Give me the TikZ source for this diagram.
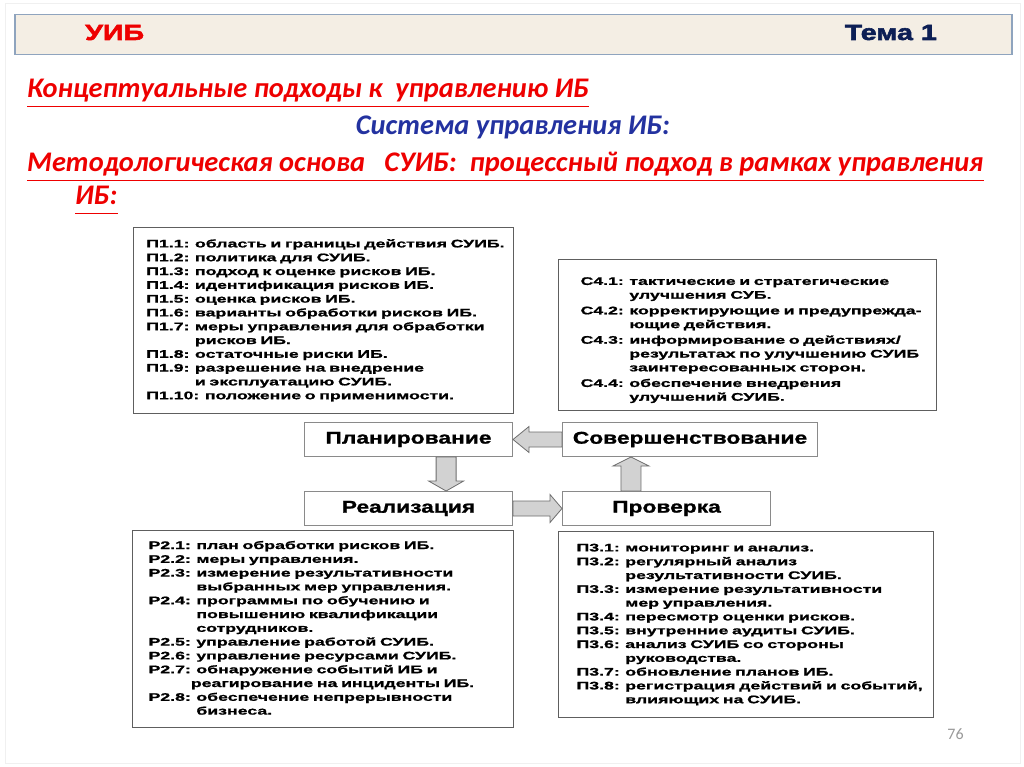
\documentclass[tikz,border=0pt]{standalone}
\usepackage{fontspec}
\setmainfont{Carlito}
\newfontfamily\listfont[FakeStretch=1.61,BoldFeatures={FakeBold=1.2}]{Liberation Sans}
\newfontfamily\stagefont[FakeStretch=1.34,BoldFeatures={FakeBold=1.2}]{Liberation Sans}
\newfontfamily\headfont[FakeStretch=1.3,BoldFeatures={FakeBold=2.5}]{Liberation Sans}
\usetikzlibrary{positioning,calc}
\definecolor{HeadFill}{HTML}{F4EEE4}
\definecolor{HeadLine}{HTML}{8FA4BE}
\definecolor{TitleRed}{HTML}{EE0000}
\definecolor{NavyText}{HTML}{0D1F55}
\definecolor{SysBlue}{HTML}{2332A0}
\definecolor{BoxLine}{HTML}{5E5E5E}
\definecolor{StageLine}{HTML}{8A8A8A}
\definecolor{ArrowFill}{HTML}{D2D2D2}
\definecolor{ArrowLine}{HTML}{6E6E6E}
\newcommand{\ind}[1]{\phantom{#1}}
% block arrow: tail, tip, shaft half width, head half width, head length
\newcommand{\blockarrow}[5]{%
  \coordinate (ba) at ($(#2)!#5pt!(#1)$);
  \draw[blockarr] ($(#1)!#3pt!90:(#2)$) -- ($(ba)!#3pt!-90:(#1)$) -- ($(ba)!#4pt!-90:(#1)$) -- (#2)
    -- ($(ba)!#4pt!90:(#1)$) -- ($(ba)!#3pt!90:(#1)$) -- ($(#1)!#3pt!-90:(#2)$) -- cycle;}

\begin{document}
\begin{tikzpicture}[x=1pt,y=-1pt,
title/.style={font=\bfseries\itshape\fontsize{28.4}{33}\selectfont,inner sep=0pt},
uline/.style={TitleRed,line width=1.6pt},
listbox/.style={draw=BoxLine,line width=1.1pt,fill=white,anchor=north west,align=left,inner ysep=0pt,
  font=\listfont\bfseries\fontsize{11}{13.8}\selectfont},
stage/.style={draw=StageLine,line width=1pt,fill=white,minimum height=34pt,inner sep=0pt,
  font=\stagefont\bfseries\fontsize{17}{20}\selectfont},
blockarr/.style={draw=ArrowLine,fill=ArrowFill,line width=0.8pt,line join=miter}]
\useasboundingbox (0,0) rectangle (1024,767);
\fill[white] (0,0) rectangle (1024,767);
\draw[gray!12] (5,3) rectangle (1020,763);
% header
\node[draw=HeadLine,line width=1.5pt,fill=HeadFill,anchor=north west,minimum width=997pt,minimum height=40pt,inner sep=0pt] (head) at (14,14) {};
\node[anchor=base west,inner sep=0pt,text=TitleRed,font=\headfont\bfseries\fontsize{22}{24}\selectfont] (uib) at (85,40) {УИБ};
\node[anchor=base east,inner sep=0pt,text=NavyText,font=\headfont\bfseries\fontsize{22}{24}\selectfont] (tema) at (937,40) {Тема 1};
% titles
\node[title,anchor=base west,text=TitleRed] (t1) at (27,98) {Концептуальные подходы к\ \ управлению ИБ};
\node[title,anchor=base,text=SysBlue] (t2) at (513,135) {Система управления ИБ:};
\node[title,anchor=base west,text=TitleRed] (t3) at (27,172) {Методологическая основа\ \ \ СУИБ:\ \ процессный подход в рамках управления};
\node[title,anchor=base west,text=TitleRed] (t4) at (75,205) {ИБ:};
\foreach \t in {t1,t3,t4}
  \draw[uline] ($(\t.base west)+(0,8.5)$) -- ($(\t.base east)+(0,8.5)$);
% stages
\node[stage,minimum width=208pt,anchor=north west] (plan) at (304,422) {Планирование};
\node[stage,minimum width=255pt,right=49pt of plan] (sov) {Совершенствование};
\node[stage,minimum width=208pt,below=34pt of plan] (real) {Реализация};
\node[stage,minimum width=208pt,below=34pt of sov.south west,anchor=north west] (prov) {Проверка};
\coordinate (pd) at ($(plan.south west)!0.68!(plan.south east)$);
\coordinate (pdt) at (pd |- real.north);
\coordinate (pu) at ($(prov.north west)!0.33!(prov.north east)$);
\coordinate (put) at (pu |- sov.south);
\blockarrow{sov.west}{plan.east}{7.5}{13}{16}
\blockarrow{pd}{pdt}{10}{17.5}{10}
\blockarrow{real.east}{prov.west}{7.5}{14}{12}
\blockarrow{pu}{put}{10}{18}{9}
% lists
\node[listbox,text width=354.6pt,inner xsep=12.7pt,minimum height=186pt] (p1) at (133,227) {\begin{tabular}{@{}l@{}}
П1.1: область и границы действия СУИБ.\\
П1.2: политика для СУИБ.\\
П1.3: подход к оценке рисков ИБ.\\
П1.4: идентификация рисков ИБ.\\
П1.5: оценка рисков ИБ.\\
П1.6: варианты обработки рисков ИБ.\\
П1.7: меры управления для обработки\\
\ind{П1.7: }рисков ИБ.\\
П1.8: остаточные риски ИБ.\\
П1.9: разрешение на внедрение\\
\ind{П1.9: }и эксплуатацию СУИБ.\\
П1.10: положение о применимости.
\end{tabular}};
\node[listbox,text width=334pt,inner xsep=22pt,minimum height=151pt] (c4) at (558,259) {\raisebox{-5pt}[\height][\depth]{\begin{tabular}{@{}l@{}}
С4.1: тактические и стратегические\\
\ind{С4.1: }улучшения СУБ.\\[1.8pt]
С4.2: корректирующие и предупрежда-\\
\ind{С4.2: }ющие действия.\\[1.8pt]
С4.3: информирование о действиях/\\
\ind{С4.3: }результатах по улучшению СУИБ\\
\ind{С4.3: }заинтересованных сторон.\\[1.8pt]
С4.4: обеспечение внедрения\\
\ind{С4.4: }улучшений СУИБ.
\end{tabular}}};
\node[listbox,text width=349pt,inner xsep=16pt,minimum height=197pt] (p2) at (132,530) {\begin{tabular}{@{}l@{}}
Р2.1: план обработки рисков ИБ.\\
Р2.2: меры управления.\\
Р2.3: измерение результативности\\
\ind{Р2.3: }выбранных мер управления.\\
Р2.4: программы по обучению и\\
\ind{Р2.4: }повышению квалификации\\
\ind{Р2.4: }сотрудников.\\
Р2.5: управление работой СУИБ.\\
Р2.6: управление ресурсами СУИБ.\\
Р2.7: обнаружение событий ИБ и\\
\ind{Р2.7:}реагирование на инциденты ИБ.\\
Р2.8: обеспечение непрерывности\\
\ind{Р2.8: }бизнеса.
\end{tabular}};
\node[listbox,text width=339pt,inner xsep=18pt,minimum height=186pt] (p3) at (558,531) {\begin{tabular}{@{}l@{}}
П3.1: мониторинг и анализ.\\
П3.2: регулярный анализ\\
\ind{П3.2: }результативности СУИБ.\\
П3.3: измерение результативности\\
\ind{П3.3: }мер управления.\\
П3.4: пересмотр оценки рисков.\\
П3.5: внутренние аудиты СУИБ.\\
П3.6: анализ СУИБ со стороны\\
\ind{П3.6: }руководства.\\
П3.7: обновление планов ИБ.\\
П3.8: регистрация действий и событий,\\
\ind{П3.8: }влияющих на СУИБ.
\end{tabular}};
% page number
\node[anchor=base,inner sep=0pt,text=gray!80,font=\fontsize{16}{18}\selectfont] (num) at (955.5,739) {76};
\end{tikzpicture}
\end{document}
